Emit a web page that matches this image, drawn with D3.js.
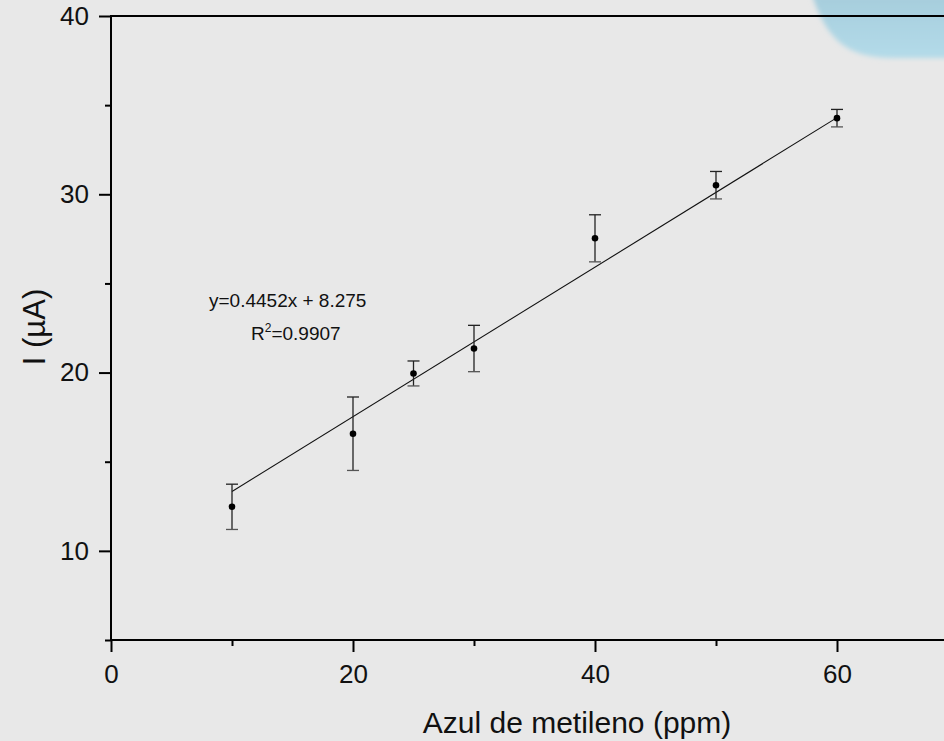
<!DOCTYPE html>
<html>
<head>
<meta charset="utf-8">
<script src="https://cdn.jsdelivr.net/npm/d3@7"></script>
<style>
  html, body { margin: 0; padding: 0; background: #e8e8e8; }
  svg { display: block; }
  text { font-family: "Liberation Sans", Arial, sans-serif; fill: #111; }
</style>
</head>
<body>
<svg id="chart" width="944" height="741"></svg>
<script>
// ---- data ----
const concentrations = [10, 20, 25, 30, 40, 50, 60];
const currents       = [12.47, 16.57, 19.95, 21.35, 27.53, 30.51, 34.27];
const errors         = [1.27, 2.06, 0.70, 1.30, 1.32, 0.77, 0.49];
const fitX           = [10, 60];
const fitY           = [13.33, 34.30];
const xMajorTicks    = [0, 20, 40, 60];
const xMinorTicks    = [10, 30, 50, 70];
const yMajorTicks    = [10, 20, 30, 40];
const yMinorTicks    = [5, 15, 25, 35];
const xTitle = "Azul de metileno (ppm)";
const yTitle = "I (µA)";
const eqLine = "y=0.4452x + 8.275";
const r2Value = "=0.9907";

(function () {
// ---- layout ----
const svg = d3.select("#chart");
const W = 944, H = 741;
const mLeft = 111, mTop = 16, mBottom = 640, mRight = 958;

const x = d3.scaleLinear().domain([0, 70]).range([mLeft, mRight]);
const y = d3.scaleLinear().domain([5, 40]).range([mBottom, mTop]);

svg.append("rect").attr("width", W).attr("height", H).attr("fill", "#e8e8e8");

// decorative blue shape top-right
const defs = svg.append("defs");
const grad = defs.append("linearGradient").attr("id", "blob").attr("x1", 0).attr("y1", 0).attr("x2", 0).attr("y2", 1);
grad.append("stop").attr("offset", "0%").attr("stop-color", "#a6cddc");
grad.append("stop").attr("offset", "100%").attr("stop-color", "#b3dbe9");
defs.append("filter").attr("id", "soft").append("feGaussianBlur").attr("stdDeviation", 2.5);
svg.append("path")
  .attr("d", "M812,-5 C826,38 846,58 892,58 L960,58 L960,-5 Z")
  .attr("fill", "url(#blob)")
  .attr("filter", "url(#soft)");

// ---- axes ----
const axisStyle = g => {
  g.selectAll(".domain").remove();
  g.selectAll("line").attr("stroke", "#000").attr("stroke-width", 2);
  g.selectAll("text").style("font-size", "26px").attr("fill", "#111");
};

svg.append("g").attr("transform", `translate(0,${mBottom})`)
  .call(d3.axisBottom(x).tickValues(xMajorTicks).tickSize(12).tickPadding(13).tickFormat(d3.format("d")))
  .call(axisStyle);
svg.append("g").attr("transform", `translate(0,${mBottom})`)
  .call(d3.axisBottom(x).tickValues(xMinorTicks).tickSize(6).tickFormat(""))
  .call(axisStyle);
svg.append("g").attr("transform", `translate(${mLeft},0)`)
  .call(d3.axisLeft(y).tickValues(yMajorTicks).tickSize(12).tickPadding(10).tickFormat(d3.format("d")))
  .call(axisStyle);
svg.append("g").attr("transform", `translate(${mLeft},0)`)
  .call(d3.axisLeft(y).tickValues(yMinorTicks).tickSize(6).tickFormat(""))
  .call(axisStyle);

// axis lines (frame)
svg.append("line").attr("x1", mLeft).attr("x2", W + 20).attr("y1", mBottom).attr("y2", mBottom)
  .attr("stroke", "#000").attr("stroke-width", 2);
svg.append("line").attr("x1", mLeft).attr("x2", W + 20).attr("y1", mTop).attr("y2", mTop)
  .attr("stroke", "#000").attr("stroke-width", 2);
svg.append("line").attr("x1", mLeft).attr("x2", mLeft).attr("y1", mTop - 1).attr("y2", mBottom + 1)
  .attr("stroke", "#000").attr("stroke-width", 2);

// ---- fit line ----
svg.append("line")
  .attr("x1", x(fitX[0])).attr("y1", y(fitY[0]))
  .attr("x2", x(fitX[1])).attr("y2", y(fitY[1]))
  .attr("stroke", "#111").attr("stroke-width", 1.1);

// ---- error bars & points ----
const pts = concentrations.map((c, i) => ({ c, v: currents[i], e: errors[i] }));
const eb = svg.append("g").attr("stroke", "#222").attr("stroke-width", 1.3);
pts.forEach(d => {
  eb.append("line").attr("x1", x(d.c)).attr("x2", x(d.c)).attr("y1", y(d.v + d.e)).attr("y2", y(d.v - d.e));
  eb.append("line").attr("x1", x(d.c) - 6).attr("x2", x(d.c) + 6).attr("y1", y(d.v + d.e)).attr("y2", y(d.v + d.e));
  eb.append("line").attr("x1", x(d.c) - 6).attr("x2", x(d.c) + 6).attr("y1", y(d.v - d.e)).attr("y2", y(d.v - d.e)).attr("stroke", "#555");
});
svg.append("g").selectAll("circle").data(pts).join("circle")
  .attr("cx", d => x(d.c)).attr("cy", d => y(d.v)).attr("r", 3.3).attr("fill", "#000");

// ---- annotation ----
svg.append("text").attr("x", 209).attr("y", 307).style("font-size", "19px").text(eqLine);
const r2 = svg.append("text").attr("x", 251).attr("y", 340).style("font-size", "19px");
r2.append("tspan").text("R");
r2.append("tspan").attr("dy", -8).style("font-size", "12px").text("2");
r2.append("tspan").attr("dy", 8).text(r2Value);

// ---- titles ----
svg.append("text").attr("x", 577).attr("y", 733).attr("text-anchor", "middle")
  .style("font-size", "30px").text(xTitle);
svg.append("text").attr("transform", "translate(45,327) rotate(-90)").attr("text-anchor", "middle")
  .style("font-size", "31px").text(yTitle);
})();
</script>
</body>
</html>
